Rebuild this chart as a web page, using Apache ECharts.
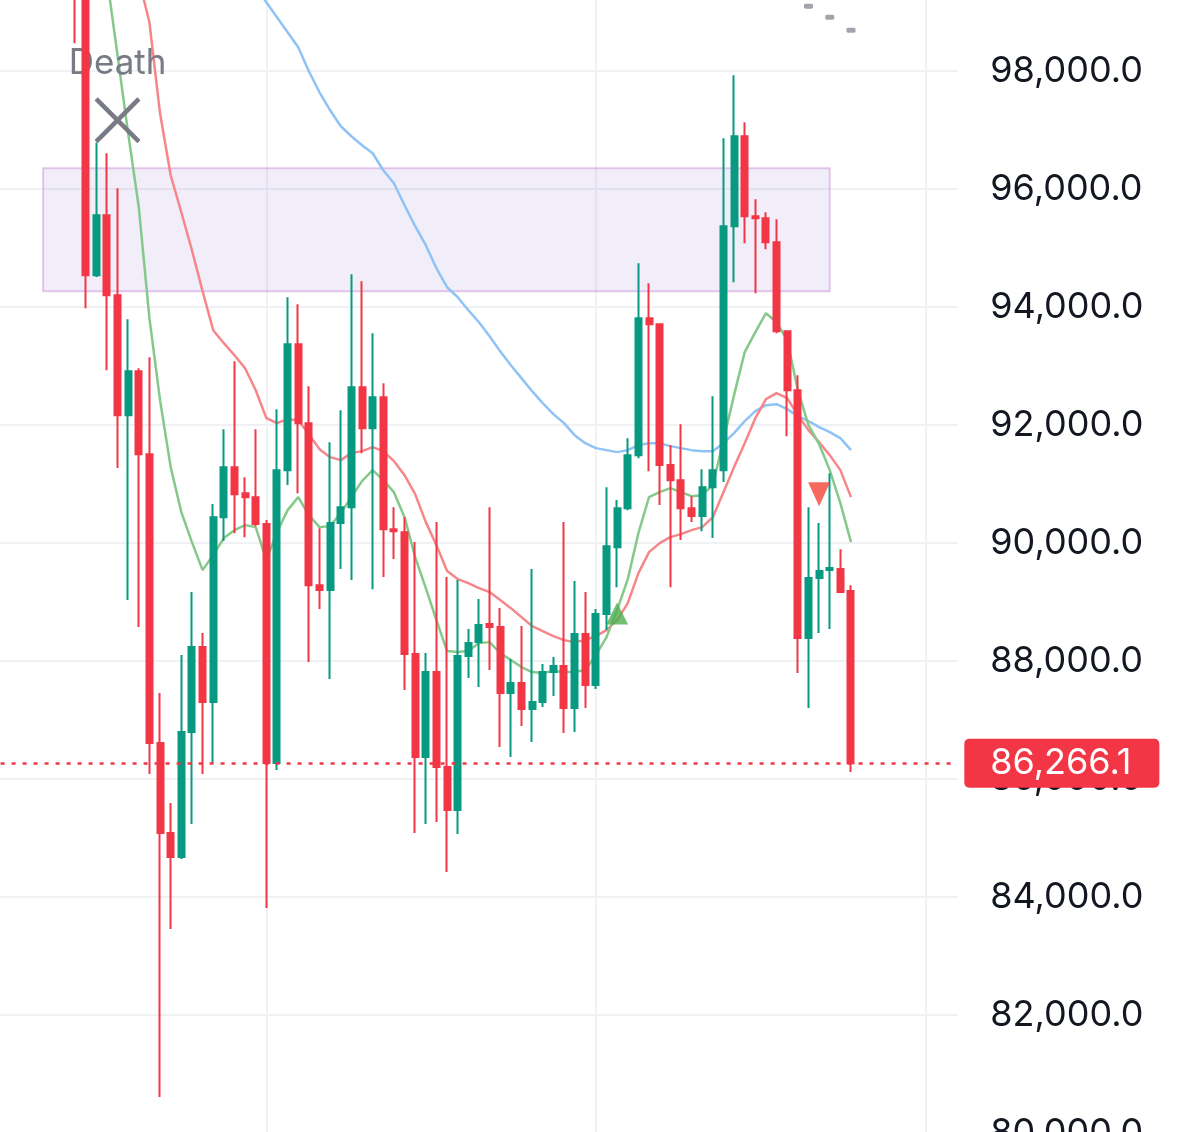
<!DOCTYPE html>
<html><head><meta charset="utf-8">
<script src="https://cdn.jsdelivr.net/npm/echarts@6/dist/echarts.min.js"></script>
<style>html,body{margin:0;padding:0;background:#fff;overflow:hidden;width:1200px;height:1132px}
#c{position:absolute;left:0;top:-47.3px;width:1200px;height:1298.4px}</style>
</head><body><div id="c"></div>
<script>
// ---- DATA ----
const categoryCount = 91;
const candleStart = 7;
// [open, close, low, high]
const ohlc = [
 [100500, 99600, 98470, 100800],
 [99900, 94540, 93980, 100200],
 [94540, 95555, 94510, 96790],
 [95555, 94200, 92930, 96605],
 [94200, 92167, 91270, 96013],
 [92167, 92912, 89032, 93793],
 [92912, 91506, 88575, 92963],
 [91506, 86609, 86084, 93149],
 [86609, 85084, 80611, 87456],
 [85084, 84678, 83458, 85593],
 [84678, 86796, 84644, 88100],
 [86796, 88236, 85237, 89168],
 [88236, 87304, 86084, 88473],
 [87304, 90438, 86270, 90659],
 [90438, 91286, 90032, 91929],
 [91286, 90828, 90167, 93082],
 [90845, 90777, 90099, 91116],
 [90777, 90320, 90286, 91929],
 [90320, 86270, 83814, 90388],
 [86270, 91235, 86152, 92268],
 [91235, 93370, 90981, 94166],
 [93370, 92031, 90845, 94047],
 [92031, 89286, 87982, 92658],
 [89286, 89202, 88880, 90252],
 [89202, 90337, 87694, 91709],
 [90337, 90608, 89558, 92251],
 [90608, 92641, 89371, 94556],
 [92641, 91946, 91523, 94437],
 [91946, 92472, 89218, 93556],
 [92472, 90235, 89422, 92709],
 [90235, 90201, 89727, 90608],
 [90184, 88117, 87507, 90438],
 [88117, 86372, 85084, 90015],
 [86372, 87812, 85237, 88134],
 [87812, 86203, 85271, 90354],
 [86203, 85474, 84424, 89422],
 [85474, 88083, 85067, 89371],
 [88083, 88303, 87711, 88541],
 [88321, 88609, 87558, 89049],
 [88626, 88575, 87846, 90608],
 [88575, 87456, 86542, 88897],
 [87456, 87626, 86372, 88032],
 [87626, 87185, 86897, 88592],
 [87185, 87304, 86626, 89558],
 [87304, 87812, 87219, 87948],
 [87812, 87914, 87406, 88066],
 [87914, 87202, 86779, 90354],
 [87202, 88456, 86796, 89354],
 [88456, 87592, 87202, 89168],
 [87592, 88795, 87524, 88880],
 [88795, 89947, 88524, 90947],
 [89930, 90591, 89252, 90727],
 [90591, 91489, 90557, 91777],
 [91489, 93810, 91438, 94742],
 [93810, 93708, 91218, 94403],
 [93708, 91320, 90642, 93725],
 [91320, 91065, 89252, 91659],
 [91065, 90591, 90049, 92014],
 [90591, 90456, 90354, 90794],
 [90456, 90947, 90201, 91252],
 [90947, 91235, 90083, 92489],
 [91235, 95369, 91032, 96860],
 [95369, 96894, 94420, 97927],
 [96894, 95538, 95081, 97131],
 [95538, 95504, 94234, 95826],
 [95504, 95098, 94979, 95606],
 [95098, 93590, 93556, 95487],
 [93590, 92590, 91811, 93600],
 [92590, 88388, 87796, 92844],
 [88388, 89405, 87202, 90608],
 [89405, 89524, 88473, 90337],
 [89541, 89575, 88541, 91184],
 [89558, 89168, 89151, 89896],
 [89185, 86266.1, 86118, 89286]
];
const greenStart = 10;
const greenMA = [99588, 98266, 96944, 95691, 93810, 92421, 91286, 90523, 90015, 89540, 89795, 90083, 90218, 90303, 90269, 89710, 90185, 90557, 90777, 90472, 90269, 90286, 90506, 90777, 91048, 91235, 91066, 90862, 90438, 89761, 89236, 88693, 88168, 88151, 88168, 88303, 88320, 88134, 88016, 87897, 87812, 87795, 87829, 87812, 87812, 87846, 88100, 88405, 88863, 89388, 90167, 90777, 90862, 90930, 90862, 90794, 90811, 90981, 91743, 92506, 93235, 93573, 93895, 93742, 93437, 92590, 91997, 91675, 91235, 90676, 90015];
const redStart = 13;
const redMA = [99554, 98825, 97283, 96233, 95606, 94962, 94268, 93607, 93387, 93183, 92963, 92590, 92116, 92031, 92099, 92082, 91845, 91591, 91455, 91404, 91523, 91557, 91625, 91557, 91388, 91150, 90828, 90354, 89964, 89524, 89388, 89320, 89235, 89168, 89032, 88896, 88744, 88591, 88507, 88422, 88354, 88320, 88354, 88422, 88524, 88693, 88981, 89490, 89845, 89998, 90100, 90150, 90218, 90269, 90438, 90862, 91286, 91692, 92116, 92438, 92540, 92455, 92166, 91913, 91709, 91489, 91235, 90777];
const blueStart = 24;
const blueMA = [99435, 99164, 98910, 98656, 98402, 97995, 97639, 97334, 97063, 96894, 96741, 96606, 96318, 96097, 95725, 95369, 95047, 94657, 94335, 94166, 93946, 93742, 93505, 93251, 93014, 92794, 92573, 92370, 92184, 92031, 91828, 91692, 91608, 91574, 91540, 91574, 91659, 91692, 91692, 91642, 91608, 91574, 91557, 91557, 91692, 91862, 92065, 92235, 92336, 92353, 92269, 92150, 92065, 91964, 91879, 91777, 91574];
const deathSignal = [11, 97165];
const buySignal = [58, 88803];
const sellSignal = [77, 90828];
const trendDots = [[76, 99096], [78, 98910], [80, 98690]];
const zone = {from: 4, to: 78, low: 94267, high: 96351};
const lastPrice = 86266.1;
const yTicks = {min: 78000, max: 100000, step: 2000};
const dayLines = [25, 56, 87];

// ---- BUILD ----
const categories = Array.from({length: categoryCount}, (_, i) => 'T' + i);
function pad(start, arr) {
  const out = new Array(categoryCount).fill('-');
  arr.forEach((v, i) => { out[start + i] = v; });
  return out;
}
const fmt = v => v.toLocaleString('en-US', {minimumFractionDigits: 1, maximumFractionDigits: 1});
const FONT = 'Inter, "Noto Sans", sans-serif';
const UP = '#089981', DOWN = '#f23645';

const chart = echarts.init(document.getElementById('c'), null, {renderer: 'canvas'});
chart.setOption({
  animation: false,
  backgroundColor: '#ffffff',
  grid: {left: 0.6, right: 242.7, top: 0, bottom: 0, containLabel: false, outerBoundsMode: 'none'},
  xAxis: {
    type: 'category', data: categories, boundaryGap: false,
    axisLine: {show: false}, axisTick: {show: false}, axisLabel: {show: false},
    splitLine: {show: true, interval: (i) => dayLines.indexOf(i) >= 0,
      lineStyle: {color: '#eff1f4', width: 2}}
  },
  yAxis: {
    type: 'value', position: 'right', min: yTicks.min, max: yTicks.max, interval: yTicks.step,
    axisLine: {show: false}, axisTick: {show: false},
    splitLine: {show: true, lineStyle: {color: '#eff1f4', width: 2}},
    axisLabel: {formatter: fmt, color: '#131722', fontSize: 36, fontFamily: FONT, margin: 33}
  },
  series: [
    {type: 'line', name: 'MA slow', data: pad(blueStart, blueMA), showSymbol: false, silent: true, z: 1,
     lineStyle: {color: '#90c3f5', width: 2.5}},
    {type: 'line', name: 'MA mid', data: pad(redStart, redMA), showSymbol: false, silent: true, z: 1,
     lineStyle: {color: '#f7868a', width: 2.5}},
    {type: 'line', name: 'MA fast', data: pad(greenStart, greenMA), showSymbol: false, silent: true, z: 1,
     lineStyle: {color: '#85c98a', width: 2.5}},
    {type: 'scatter', name: 'Death', data: [deathSignal], silent: true, z: 1,
     symbol: 'path://M0,7L7,0L50,43L93,0L100,7L57,50L100,93L93,100L50,57L7,100L0,93L43,50Z',
     symbolSize: 46, itemStyle: {color: '#787b86', opacity: 1},
     label: {show: true, formatter: 'Death', position: 'top', distance: 14,
       fontSize: 35, lineHeight: 40, color: '#787b86', fontFamily: FONT}},
    {type: 'candlestick', name: 'Price', data: pad(candleStart, ohlc), z: 2, silent: true,
     barWidth: 6.5, clip: true,
     itemStyle: {color: UP, color0: DOWN, borderColor: UP, borderColor0: DOWN, borderWidth: 2},
     markArea: {silent: true, z: 1,
       itemStyle: {color: 'rgba(149,117,205,0.13)', borderColor: 'rgba(186,104,200,0.35)', borderWidth: 2},
       data: [[{xAxis: zone.from, yAxis: zone.low}, {xAxis: zone.to, yAxis: zone.high}]]},
     markLine: {silent: true, symbol: 'none', z: 5,
       lineStyle: {color: DOWN, type: [4, 7], width: 2.5},
       label: {show: true, position: 'end', distance: 7, formatter: () => fmt(lastPrice),
         color: '#ffffff', backgroundColor: DOWN, borderRadius: 5, padding: [6, 28, 6, 26],
         fontSize: 36, lineHeight: 37, fontFamily: FONT},
       data: [{yAxis: lastPrice}]}
    },
    {type: 'scatter', name: 'Buy', data: [buySignal], silent: true, z: 3,
     symbol: 'triangle', symbolSize: [22, 22], itemStyle: {color: '#4caf50'}},
    {type: 'scatter', name: 'Sell', data: [sellSignal], silent: true, z: 3,
     symbol: 'triangle', symbolRotate: 180, symbolSize: [22, 24], itemStyle: {color: '#f44336'}},
    {type: 'scatter', name: 'Trend', data: trendDots, silent: true, z: 3,
     symbol: 'roundRect', symbolSize: [9, 5], itemStyle: {color: '#8a8d96'}}
  ]
});
</script></body></html>
